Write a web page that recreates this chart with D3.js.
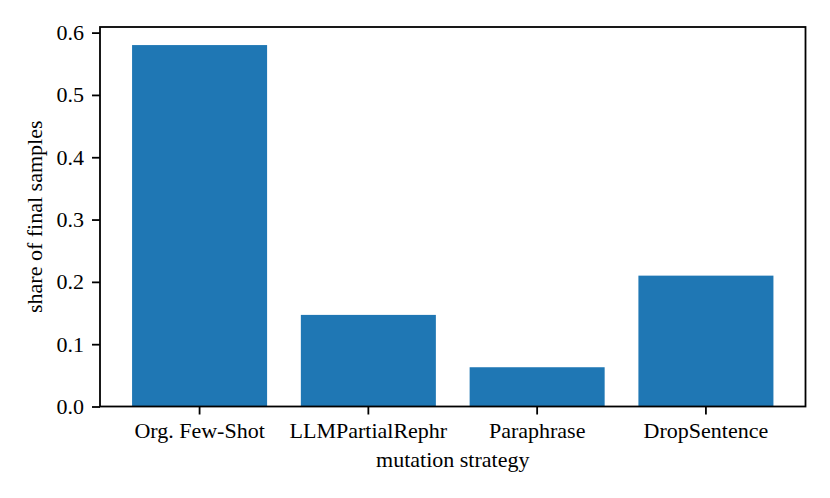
<!DOCTYPE html>
<html>
<head>
<meta charset="utf-8">
<script src="https://cdn.jsdelivr.net/npm/d3@7"></script>
<style>
  html, body { margin: 0; padding: 0; background: #fff; }
  svg { display: block; font-family: "Liberation Serif", "Times New Roman", serif; }
</style>
</head>
<body>
<svg width="830" height="498"></svg>
<script>
// ---- Dados
const categories = ['Org. Few-Shot', 'LLMPartialRephr', 'Paraphrase', 'DropSentence'];
const shares = [0.58, 0.147, 0.063, 0.21];
const yTicks = [0.0, 0.1, 0.2, 0.3, 0.4, 0.5, 0.6];
const labels = { x: 'mutation strategy', y: 'share of final samples' };

const data = categories.map((c, i) => ({ x: c, y: shares[i] }));

const svg = d3.select('svg');
const margens = { left: 100, right: 24.5, top: 27, bottom: 91.5 };
const width = 830 - margens.left - margens.right;
const height = 498 - margens.top - margens.bottom;

// ---- Escalas
const mapX = d3.scaleBand()
    .domain(categories)
    .range([0, width])
    .paddingInner(0.2)
    .paddingOuter(0.19);

const mapY = d3.scaleLinear()
    .domain([0, d3.max(shares) * 1.05])
    .range([height, 0]);

const g = svg.append('g')
    .attr('transform', `translate(${margens.left}, ${margens.top})`);

// ---- Barras
g.selectAll('rect')
    .data(data)
    .join('rect')
    .attr('x', d => mapX(d.x))
    .attr('y', d => mapY(d.y))
    .attr('width', mapX.bandwidth())
    .attr('height', d => height - mapY(d.y))
    .attr('fill', '#1f77b4');

// ---- Eixos
const xAxis = d3.axisBottom(mapX).tickSize(8).tickPadding(8).tickSizeOuter(0);
const yAxis = d3.axisLeft(mapY).tickValues(yTicks).tickFormat(d3.format('.1f'))
    .tickSize(8).tickPadding(8).tickSizeOuter(0);

const gx = g.append('g')
    .attr('transform', `translate(0, ${height})`)
    .call(xAxis);

const gy = g.append('g').call(yAxis);

[gx, gy].forEach(ax => {
    ax.select('.domain').remove();
    ax.selectAll('.tick line').attr('stroke', '#000').attr('stroke-width', 1.8);
    ax.selectAll('.tick text')
        .attr('fill', '#000')
        .style('font-family', '"Liberation Serif", "Times New Roman", serif')
        .style('font-size', '22px');
});

// moldura
g.append('rect')
    .attr('x', 0)
    .attr('y', 0)
    .attr('width', width)
    .attr('height', height)
    .attr('fill', 'none')
    .attr('stroke', '#000')
    .attr('stroke-width', 1.8);

// ---- Rótulos
svg.append('text')
    .attr('x', margens.left + width / 2)
    .attr('y', 466.5)
    .style('text-anchor', 'middle')
    .style('font-size', '22px')
    .style('fill', 'black')
    .text(labels.x);

svg.append('text')
    .attr('transform', 'rotate(-90)')
    .attr('x', -(margens.top + height / 2))
    .attr('y', 42)
    .style('text-anchor', 'middle')
    .style('font-size', '22px')
    .style('fill', 'black')
    .text(labels.y);
</script>
</body>
</html>
